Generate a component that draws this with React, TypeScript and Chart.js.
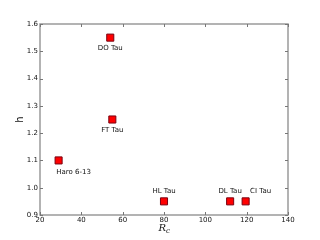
import React, { useEffect, useRef } from "react";
import { Chart, registerables } from "chart.js";

Chart.register(...registerables);

const names = ["Haro 6-13", "DO Tau", "FT Tau", "HL Tau", "DL Tau", "CI Tau"];
const rcValues = [29, 54, 55, 80, 112, 119.5];
const hValues = [1.1, 1.55, 1.25, 0.95, 0.95, 0.95];
const labelDx = [15, 0, 0, 0, 0, 15];
const labelDy = [12, 11, 11, -10, -10, -10];
const xTicks = [20, 40, 60, 80, 100, 120, 140];
const yTicks = [0.9, 1.0, 1.1, 1.2, 1.3, 1.4, 1.5, 1.6];

const frameColor = "#9a9a9a";

const decorPlugin = {
  id: "decor",
  afterDatasetsDraw(chart: any) {
    const ctx = chart.ctx;
    const { left, right, top, bottom } = chart.chartArea;
    const xs = chart.scales.x;
    const ys = chart.scales.y;
    ctx.save();
    // frame
    ctx.strokeStyle = frameColor;
    ctx.lineWidth = 1.5;
    ctx.strokeRect(left, top, right - left, bottom - top);
    // inward ticks
    ctx.lineWidth = 1;
    ctx.strokeStyle = "#777";
    ctx.beginPath();
    for (const t of xTicks) {
      const px = Math.round(xs.getPixelForValue(t)) + 0.5;
      ctx.moveTo(px, bottom);
      ctx.lineTo(px, bottom - 3);
      ctx.moveTo(px, top);
      ctx.lineTo(px, top + 3);
    }
    for (const t of yTicks) {
      const py = Math.round(ys.getPixelForValue(t)) + 0.5;
      ctx.moveTo(left, py);
      ctx.lineTo(left + 3, py);
      ctx.moveTo(right, py);
      ctx.lineTo(right - 3, py);
    }
    ctx.stroke();
    // point labels
    ctx.fillStyle = "#111";
    ctx.font = "7px 'DejaVu Sans'";
    ctx.textAlign = "center";
    ctx.textBaseline = "middle";
    names.forEach((n, i) => {
      const px = xs.getPixelForValue(rcValues[i]);
      const py = ys.getPixelForValue(hValues[i]);
      ctx.fillText(n, px + labelDx[i], py + labelDy[i]);
    });
    // axis titles
    ctx.font = "10px 'DejaVu Sans'";
    ctx.save();
    ctx.translate(20, (top + bottom) / 2);
    ctx.rotate(-Math.PI / 2);
    ctx.fillText("h", 0, 0);
    ctx.restore();
    const cx = (left + right) / 2;
    ctx.font = "italic 10px 'DejaVu Serif'";
    ctx.textAlign = "right";
    ctx.fillText("R", cx + 2, 228);
    ctx.font = "italic 7px 'DejaVu Serif'";
    ctx.textAlign = "left";
    ctx.fillText("c", cx + 2, 231);
    ctx.restore();
  },
};

export default function App() {
  const ref = useRef<HTMLCanvasElement>(null);
  useEffect(() => {
    document.body.style.margin = "0";
    const chart = new Chart(ref.current!, {
      type: "scatter",
      data: {
        datasets: [
          {
            data: rcValues.map((x, i) => ({ x, y: hValues[i] })),
            pointStyle: "rect",
            pointRadius: 5,
            pointHoverRadius: 5,
            backgroundColor: "#ff0000",
            borderColor: "#7a0010",
            borderWidth: 1,
          },
        ],
      },
      options: {
        animation: false,
        responsive: false,
        layout: { padding: { top: 24, right: 32, left: 0, bottom: 0 } },
        plugins: { legend: { display: false }, tooltip: { enabled: false } },
        scales: {
          x: {
            type: "linear",
            min: 20,
            max: 140,
            afterBuildTicks: (s: any) => {
              s.ticks = xTicks.map((v) => ({ value: v }));
            },
            afterFit: (s: any) => {
              s.height = 25;
            },
            grid: { display: false, drawTicks: false, tickLength: 0 },
            border: { display: false },
            ticks: {
              padding: 1,
              color: "#111",
              font: { size: 7, family: "DejaVu Sans" },
              maxRotation: 0,
            },
          },
          y: {
            type: "linear",
            min: 0.9,
            max: 1.6,
            afterBuildTicks: (s: any) => {
              s.ticks = yTicks.map((v) => ({ value: v }));
            },
            afterFit: (s: any) => {
              s.width = 40;
            },
            grid: { display: false, drawTicks: false, tickLength: 0 },
            border: { display: false },
            ticks: {
              padding: 2,
              color: "#111",
              font: { size: 7, family: "DejaVu Sans" },
              callback: (v: any) => Number(v).toFixed(1),
            },
          },
        },
      },
      plugins: [decorPlugin],
    });
    return () => chart.destroy();
  }, []);
  return (
    <div style={{ width: 320, height: 240 }}>
      <canvas ref={ref} width={320} height={240} />
    </div>
  );
}
